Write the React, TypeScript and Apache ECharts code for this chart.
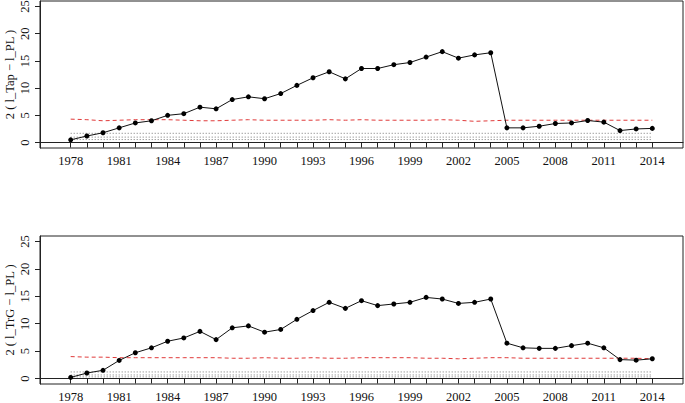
import React, { useEffect, useRef } from "react";
import * as echarts from "echarts";

const years = [
  1978, 1979, 1980, 1981, 1982, 1983, 1984, 1985, 1986, 1987, 1988, 1989, 1990,
  1991, 1992, 1993, 1994, 1995, 1996, 1997, 1998, 1999, 2000, 2001, 2002, 2003,
  2004, 2005, 2006, 2007, 2008, 2009, 2010, 2011, 2012, 2013, 2014,
];
const xLabelYears = [1978, 1981, 1984, 1987, 1990, 1993, 1996, 1999, 2002, 2005, 2008, 2011, 2014];
const yTicks = [0, 5, 10, 15, 20, 25];

const tapGap = [
  0.5, 1.2, 1.8, 2.7, 3.6, 4.0, 5.0, 5.3, 6.5, 6.2, 7.9, 8.4, 8.05, 9.0, 10.5,
  11.9, 13.0, 11.7, 13.6, 13.6, 14.3, 14.7, 15.7, 16.7, 15.5, 16.1, 16.5, 2.7,
  2.7, 3.0, 3.5, 3.6, 4.05, 3.75, 2.2, 2.5, 2.6,
];
const tapCrit = [
  4.3, 4.2, 4.0, 4.1, 4.2, 4.2, 4.2, 4.1, 4.0, 4.0, 4.1, 4.2, 4.1, 4.1, 4.1, 4.1,
  4.2, 4.1, 4.2, 4.1, 4.1, 4.1, 4.1, 4.2, 4.1, 3.9, 4.0, 4.1, 4.1, 4.1, 4.1, 4.1,
  4.1, 4.1, 4.1, 4.1, 4.1,
];
const tapDotted = [1.7, 1.0, 0.55];

const trgGap = [
  0.2, 1.0, 1.5, 3.3, 4.7, 5.6, 6.8, 7.4, 8.6, 7.1, 9.25, 9.6, 8.45, 8.95, 10.8,
  12.4, 13.9, 12.8, 14.2, 13.3, 13.6, 13.9, 14.8, 14.5, 13.7, 13.9, 14.5, 6.45,
  5.6, 5.5, 5.5, 6.0, 6.45, 5.6, 3.45, 3.35, 3.6,
];
const trgCrit = [
  4.0, 3.9, 3.9, 3.8, 3.8, 3.8, 3.8, 3.8, 3.8, 3.8, 3.7, 3.7, 3.8, 3.7, 3.7, 3.8,
  3.7, 3.7, 3.8, 3.8, 3.8, 3.8, 3.7, 3.7, 3.6, 3.7, 3.8, 3.8, 3.7, 3.7, 3.7, 3.7,
  3.7, 3.7, 3.7, 3.7, 3.6,
];
const trgDotted = [1.2, 0.65, 0.3];

const FONT = "Liberation Serif";

export default function App() {
  const ref = useRef<HTMLDivElement>(null);
  useEffect(() => {
    if (!ref.current) return;
    const chart = echarts.init(ref.current, undefined, { renderer: "svg" });

    const panels = [
      { gap: tapGap, crit: tapCrit, dotted: tapDotted, name: "2 ( l_Tap \u2212 l_PL )" },
      { gap: trgGap, crit: trgCrit, dotted: trgDotted, name: "2 ( l_TrG \u2212 l_PL )" },
    ];
    const grids = [
      { left: 40, top: 1, width: 643, height: 147 },
      { left: 40, top: 236, width: 643, height: 148 },
    ];

    const xAxis: any[] = [];
    const yAxis: any[] = [];
    const series: any[] = [];
    panels.forEach((p, i) => {
      xAxis.push({
        type: "value",
        gridIndex: i,
        min: 1976.1,
        max: 2015.9,
        splitLine: { show: false },
        axisLine: { show: true, lineStyle: { color: "#222", width: 1 } },
        axisTick: {
          show: true,
          length: 5,
          customValues: years,
          lineStyle: { color: "#222" },
        },
        axisLabel: {
          customValues: xLabelYears,
          margin: 6,
          color: "#111",
          fontFamily: FONT,
          fontSize: 12.5,
          formatter: (v: number) => String(v),
        },
      });
      yAxis.push({
        type: "value",
        gridIndex: i,
        min: -1,
        max: 26,
        name: p.name,
        nameLocation: "middle",
        nameGap: 24,
        nameMoveOverlap: false,
        nameTextStyle: { fontFamily: FONT, fontSize: 12.5, color: "#111" },
        splitLine: { show: false },
        axisLine: { show: true, lineStyle: { color: "#222", width: 1 } },
        axisTick: {
          show: true,
          length: 5,
          customValues: yTicks,
          lineStyle: { color: "#222" },
        },
        axisLabel: {
          customValues: yTicks,
          rotate: 90,
          margin: 9,
          color: "#111",
          fontFamily: FONT,
          fontSize: 12.5,
        },
      });
      series.push({
        type: "line",
        xAxisIndex: i,
        yAxisIndex: i,
        data: years.map((y, k) => [y, p.gap[k]]),
        symbol: "circle",
        symbolSize: 5,
        itemStyle: { color: "#000" },
        lineStyle: { color: "#111", width: 1 },
        z: 5,
      });
      series.push({
        type: "line",
        xAxisIndex: i,
        yAxisIndex: i,
        data: years.map((y, k) => [y, p.crit[k]]),
        showSymbol: false,
        symbol: "none",
        lineStyle: { color: "#e03a3a", width: 1, type: [4, 3] },
        z: 3,
      });
      p.dotted.forEach((lv) => {
        series.push({
          type: "line",
          xAxisIndex: i,
          yAxisIndex: i,
          data: [
            [years[0], lv],
            [years[years.length - 1], lv],
          ],
          showSymbol: false,
          symbol: "none",
          lineStyle: { color: "#777", width: 1, type: [1, 2] },
          z: 2,
        });
      });
    });

    chart.setOption({
      animation: false,
      backgroundColor: "#fff",
      grid: grids.map((g) => ({
        ...g,
        show: true,
        containLabel: false,
        outerBoundsMode: "none",
        borderColor: "#222",
        borderWidth: 1,
        backgroundColor: "transparent",
      })),
      xAxis,
      yAxis,
      series,
    });
    return () => chart.dispose();
  }, []);
  return (
    <div
      ref={ref}
      style={{ position: "fixed", left: 0, top: 0, width: 685, height: 403, background: "#fff" }}
    />
  );
}
